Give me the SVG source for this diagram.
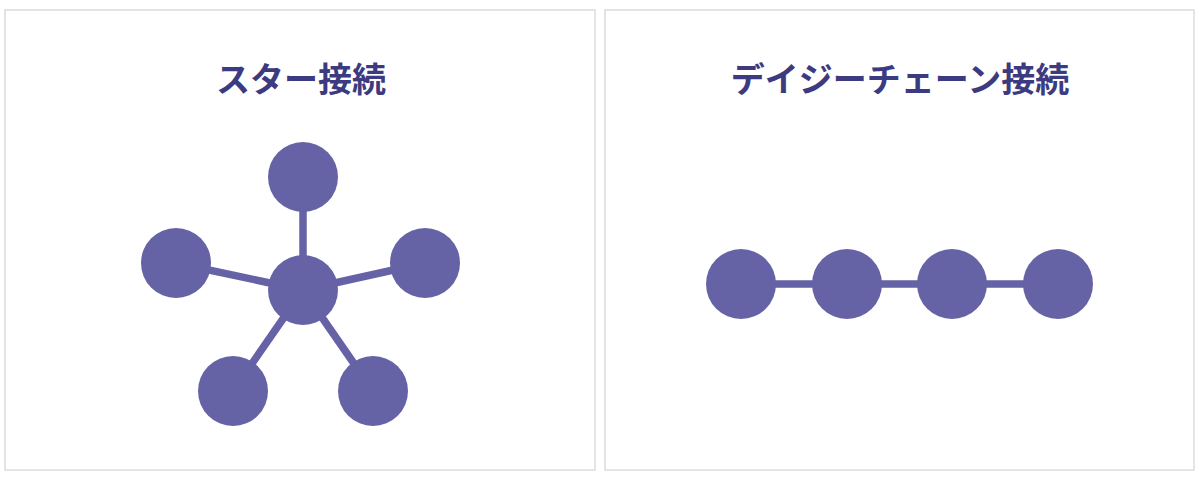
<svg xmlns="http://www.w3.org/2000/svg" width="1200" height="481" viewBox="0 0 1200 481">
<style>
.panel{fill:#ffffff;stroke:#dcdcdc;stroke-width:1.5}
.title{font-family:"Noto Sans CJK JP","Noto Sans",sans-serif;font-weight:bold;font-size:34px;fill:#3c3a80;text-anchor:middle}
.node{fill:#6562a6}
.link{stroke:#6562a6;stroke-width:7.5;fill:none}
</style>
<rect width="1200" height="481" fill="#ffffff"/>
<g id="panel-star">
<rect class="panel" x="5" y="10" width="590" height="460"/>
<text class="title" x="301" y="92">スター接続</text>
</g>
<g id="panel-daisy">
<rect class="panel" x="605" y="10" width="589" height="460"/>
<text class="title" x="900" y="92">デイジーチェーン接続</text>
</g>
<g id="connectors">
<line class="link" x1="303" y1="290" x2="303" y2="177"/>
<line class="link" x1="303" y1="290" x2="176" y2="263"/>
<line class="link" x1="303" y1="290" x2="425" y2="263"/>
<line class="link" x1="303" y1="290" x2="233" y2="391"/>
<line class="link" x1="303" y1="290" x2="373" y2="391"/>
<line class="link" x1="741" y1="284" x2="1058" y2="284"/>
</g>
<g id="star-hub"><circle class="node" cx="303" cy="290" r="35"/></g>
<g id="star-top"><circle class="node" cx="303" cy="177" r="35"/></g>
<g id="star-left"><circle class="node" cx="176" cy="263" r="35"/></g>
<g id="star-right"><circle class="node" cx="425" cy="263" r="35"/></g>
<g id="star-bottom-left"><circle class="node" cx="233" cy="391" r="35"/></g>
<g id="star-bottom-right"><circle class="node" cx="373" cy="391" r="35"/></g>
<g id="chain-1"><circle class="node" cx="741" cy="284" r="35"/></g>
<g id="chain-2"><circle class="node" cx="847" cy="284" r="35"/></g>
<g id="chain-3"><circle class="node" cx="952" cy="284" r="35"/></g>
<g id="chain-4"><circle class="node" cx="1058" cy="284" r="35"/></g>
</svg>
